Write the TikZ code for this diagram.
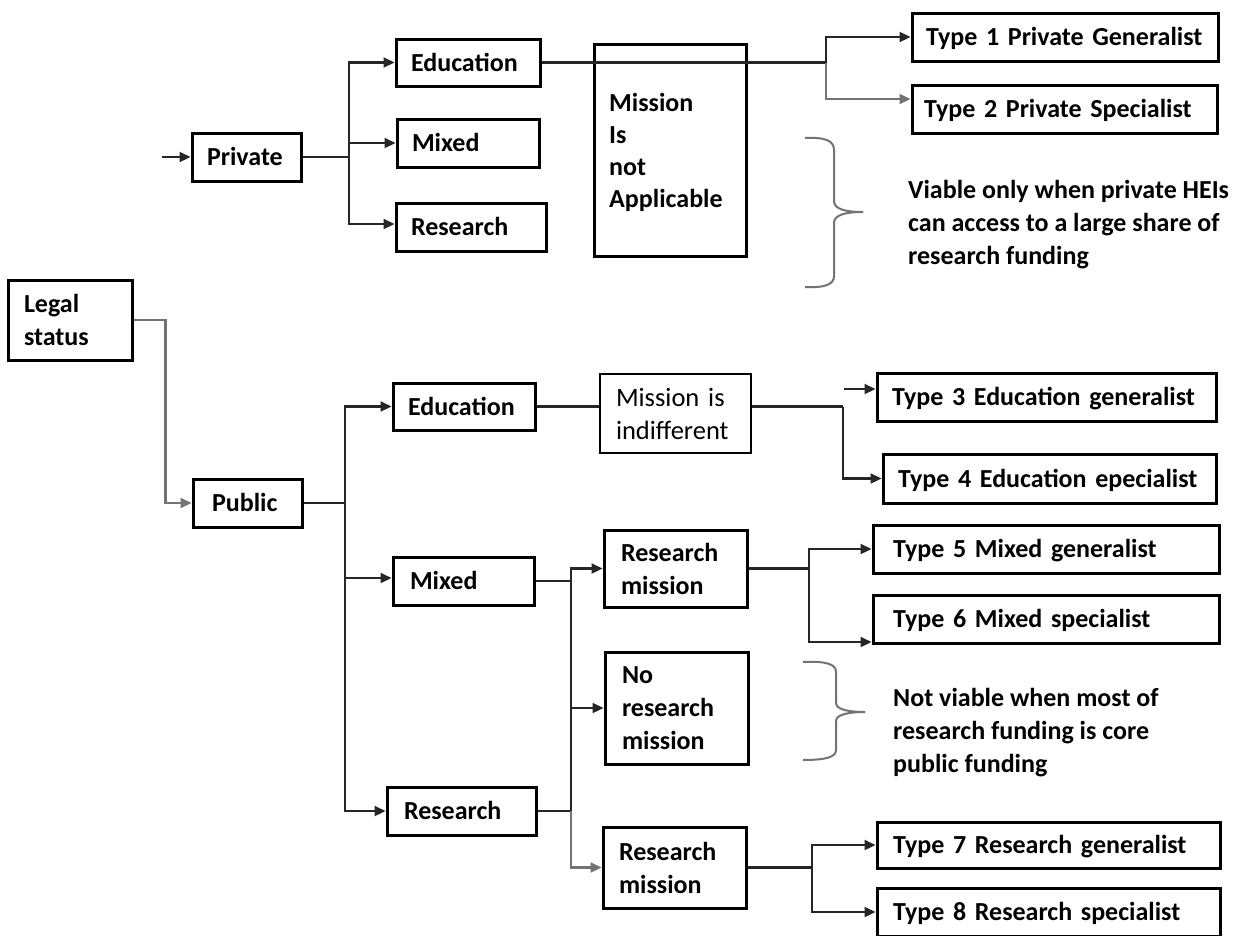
\documentclass[tikz,border=0pt]{standalone}
\usepackage{fontspec}
\setmainfont{Carlito}
\usetikzlibrary{arrows.meta}
\newcommand\fsz{\fontsize{26}{33}\selectfont\bfseries}
\newcommand\fszm{\fontsize{26}{32}\selectfont\bfseries}
\newcommand\fszs{\fontsize{26.5}{33}\selectfont\mdseries}
\begin{document}
\begin{tikzpicture}[x=1pt,y=-1pt,
  every node/.style={font=\fsz},
  bx/.style={draw, line width=3pt, rectangle, align=left, inner xsep=15pt, inner ysep=0pt},
  one/.style={text height=20pt, text depth=3pt},
  txt/.style={inner sep=0pt, align=left, anchor=north west},
  ln/.style={line width=2.2pt, draw=black!85},
  gl/.style={line width=2.2pt, draw=black!55},
  arr/.style={ln, -{Triangle[length=11pt,width=10pt]}},
  garr/.style={gl, -{Triangle[length=11pt,width=10pt]}},
  br/.style={line width=2pt, draw=black!55},
]
\useasboundingbox (0,0) rectangle (1237,935);
\fill[white] (0,0) rectangle (1237,935);

% ---------- boxes ----------
\node[bx, one, minimum width=109pt, minimum height=48pt, text width=79pt] (private) at (246.5,157) {Private};
\node[bx, one, minimum width=144pt, minimum height=47pt, text width=114pt] (edu1) at (468,62.5) {Education};
\node[bx, one, minimum width=142pt, minimum height=48pt, text width=112pt] (mix1) at (468,143) {Mixed};
\node[bx, one, minimum width=150pt, minimum height=48pt, text width=120pt] (res1) at (471,227) {Research};
\node[bx, minimum width=152pt, minimum height=212pt] (mna) at (670,150) {};
\node[txt, font=\fszm] (mnatxt) at (609,93) {Mission\\Is\\not\\Applicable};
\node[bx, one, inner xsep=14pt, minimum width=306pt, minimum height=48pt, text width=278pt] (type1) at (1065,37) {Type 1 Private Generalist};
\node[bx, one, inner xsep=12pt, minimum width=305pt, minimum height=48pt, text width=281pt] (type2) at (1064.5,109) {Type 2 Private Specialist};

\node[bx, inner xsep=16pt, minimum width=124pt, minimum height=80pt, text width=92pt] (legal) at (70,320) {Legal\\status};
\node[bx, one, inner xsep=19pt, minimum width=109pt, minimum height=48pt, text width=71pt] (public) at (247.5,503) {Public};
\node[bx, one, minimum width=142pt, minimum height=47pt, text width=112pt] (edu2) at (464,406.5) {Education};
\node[bx, one, inner xsep=17pt, minimum width=141pt, minimum height=48pt, text width=107pt] (mix2) at (463.5,581) {Mixed};
\node[bx, one, inner xsep=17pt, minimum width=149pt, minimum height=48pt, text width=115pt] (res2) at (461.5,811) {Research};
\node[bx, line width=2pt, inner xsep=16pt, minimum width=151pt, minimum height=79pt, text width=119pt, font=\fszs] (mind) at (675.5,413.5) {Mission is\\indifferent};
\node[bx, one, minimum width=339pt, minimum height=48pt, text width=309pt] (type3) at (1046.5,397) {Type 3 Education generalist};
\node[bx, one, minimum width=333pt, minimum height=49pt, text width=303pt] (type4) at (1049.5,478.5) {Type 4 Education epecialist};
\node[bx, inner xsep=17pt, minimum width=143pt, minimum height=77pt, text width=109pt] (rm1) at (675.5,568.5) {Research\\mission};
\node[bx, inner xsep=17pt, minimum width=143pt, minimum height=112pt, text width=109pt] (nrm) at (676.5,708) {No\\research\\mission};
\node[bx, inner xsep=16pt, minimum width=143pt, minimum height=81pt, text width=111pt] (rm2) at (674.5,867.5) {Research\\mission};
\node[bx, one, inner xsep=20pt, minimum width=346pt, minimum height=48pt, text width=306pt] (type5) at (1046,549) {Type 5 Mixed generalist};
\node[bx, one, inner xsep=20pt, minimum width=346pt, minimum height=48pt, text width=306pt] (type6) at (1046,619) {Type 6 Mixed specialist};
\node[bx, one, inner xsep=16pt, minimum width=343pt, minimum height=46pt, text width=311pt] (type7) at (1048.5,845) {Type 7 Research generalist};
\node[bx, one, inner xsep=16pt, minimum width=343pt, minimum height=48pt, text width=311pt] (type8) at (1048.5,912) {Type 8 Research specialist};

% ---------- notes ----------
\node[txt] (note1) at (908,180) {Viable only when private HEIs\\can access to a large share of\\research funding};
\node[txt] (note2) at (893,688) {Not viable when most of\\research funding is core\\public funding};

% braces
\draw[br] (805,138) .. controls (826,137) and (834,141) .. (834,150) -- (834,201) .. controls (834,209) and (845,212) .. (863,212);
\draw[br] (863,212) .. controls (845,212) and (834,215) .. (834,223) -- (834,276) .. controls (834,284) and (826,288) .. (805,287);
\draw[br] (803,662) .. controls (826,661) and (836,664) .. (836,672) -- (836,703) .. controls (836,709) and (847,712) .. (865,712);
\draw[br] (865,712) .. controls (847,712) and (836,715) .. (836,721) -- (836,750) .. controls (836,757) and (826,760) .. (803,760);

% ---------- connectors ----------
\coordinate (pin) at (162,157);
\draw[arr] (pin) -- (private);
\draw[ln] (private.east) -- (349,157) coordinate (pj);
\draw[arr] (pj) |- (edu1.west);
\draw[arr] (pj) |- (mix1.west);
\draw[arr] (pj) |- ([yshift=3pt]res1.west);

\draw[ln] (edu1.east) -- (826,62.5) coordinate (tj);
\draw[arr] (tj) |- (type1.west);
\draw[garr] (tj) |- ([yshift=10pt]type2.west);

\draw[garr] (legal.east) -- ++(32,0) |- (public.west);
\draw[ln] (public.east) -- (345,503) coordinate (uj);
\draw[arr] (uj) |- (edu2.west);
\draw[arr] (uj) |- ([yshift=3pt]mix2.west);
\draw[arr] (uj) |- (res2.west);

\draw[ln] (edu2.east) -- (edu2.east -| mind.west);
\draw[ln] (edu2.east -| mind.east) -- (843,406.5) coordinate (ej);
\draw[arr] (ej) |- (type4.west);
\coordinate (s3) at (844,389);
\draw[arr] (s3) -- (s3 -| type3.west);

\draw[ln] (mix2.east) -- (571,581) coordinate (mj);
\draw[arr] (mj) |- (rm1.west);
\draw[arr] (mj) |- (nrm.west);
\draw[ln] (res2.east) -- (571,811) coordinate (rj);
\draw[ln] (mj) -- (rj);
\draw[garr] (rj) |- (rm2.west);

\draw[ln] (rm1.east) -- (809,568.5) coordinate (r1j);
\draw[arr] (r1j) |- (type5.west);
\draw[arr] (r1j) |- ([yshift=-23pt]type6.west);

\draw[ln] (rm2.east) -- (812,867.5) coordinate (r2j);
\draw[arr] (r2j) |- (type7.west);
\draw[arr] (r2j) |- (type8.west);
\end{tikzpicture}
\end{document}
